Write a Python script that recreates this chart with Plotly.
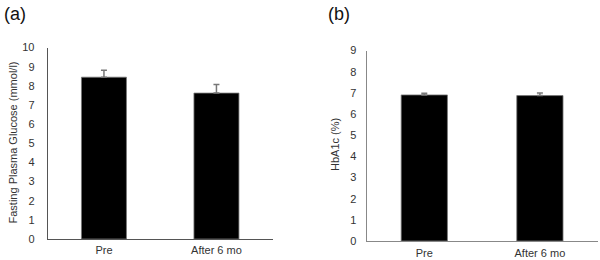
import plotly.graph_objects as go

categories = ["Pre", "After 6 mo"]
fpg_values = [8.45, 7.62]
fpg_errors = [0.36, 0.45]
hba1c_values = [6.90, 6.87]
hba1c_errors = [0.08, 0.12]

FONT = "Liberation Sans, Arial, sans-serif"
TXT = "#333333"
W, H = 600, 260

fig = go.Figure()

fig.add_trace(go.Bar(
    x=categories, y=fpg_values, xaxis="x", yaxis="y",
    width=0.4, marker=dict(color="black", line=dict(color="#777777", width=0.8)),
    error_y=dict(type="data", symmetric=False, array=fpg_errors, arrayminus=[0, 0],
                 color="#777777", thickness=1.5, width=3),
    showlegend=False,
))
fig.add_trace(go.Bar(
    x=categories, y=hba1c_values, xaxis="x2", yaxis="y2",
    width=0.4, marker=dict(color="black", line=dict(color="#777777", width=0.8)),
    error_y=dict(type="data", symmetric=False, array=hba1c_errors, arrayminus=[0, 0],
                 color="#777777", thickness=1.5, width=3),
    showlegend=False,
))

axis_common = dict(showgrid=False, zeroline=False, ticks="", automargin=False,
                   tickfont=dict(family=FONT, size=11, color=TXT))


def px(x, y):
    return x / W, 1 - y / H


fig.update_layout(
    template="none",
    width=W, height=H,
    margin=dict(l=0, r=0, t=0, b=0, pad=0),
    paper_bgcolor="white", plot_bgcolor="white",
    font=dict(family=FONT, color=TXT),
    xaxis=dict(domain=[47.7 / W, 272.7 / W], anchor="y", type="category", range=[-0.5, 1.5],
               showline=True, linecolor="#555555", linewidth=1, ticklabelstandoff=1, **axis_common),
    yaxis=dict(domain=[1 - 239 / H, 1 - 47.5 / H], anchor="x", range=[0, 10], dtick=1,
               showline=True, linecolor="#555555", linewidth=1, ticklabelstandoff=10, **axis_common),
    xaxis2=dict(domain=[366.5 / W, 597.7 / W], anchor="y2", type="category", range=[-0.5, 1.5],
                showline=True, linecolor="#888888", linewidth=1, ticklabelstandoff=2, **axis_common),
    yaxis2=dict(domain=[1 - 241 / H, 1 - 50.5 / H], anchor="x2", range=[0, 9], dtick=1,
                showline=True, linecolor="#888888", linewidth=1, ticklabelstandoff=7, **axis_common),
)

ann = [
    dict(text="(a)", pos=(2, 14), angle=0, xanchor="left", size=18, color="#111111"),
    dict(text="Fasting Plasma Glucose (mmol/l)", pos=(12.5, 143), angle=-90, xanchor="center", size=11, color=TXT),
    dict(text="(b)", pos=(326, 14), angle=0, xanchor="left", size=18, color="#111111"),
    dict(text="HbA1c (%)", pos=(335, 145), angle=-90, xanchor="center", size=11, color=TXT),
]
for a in ann:
    x, y = px(*a["pos"])
    fig.add_annotation(text=a["text"], x=x, y=y, xref="paper", yref="paper", showarrow=False,
                       textangle=a["angle"], xanchor=a["xanchor"], yanchor="middle",
                       font=dict(family=FONT, size=a["size"], color=a["color"]))

fig.write_html("out.html",
               config={"displayModeBar": False, "staticPlot": True},
               post_script="document.body.style.margin='0';document.body.style.overflow='hidden';")
